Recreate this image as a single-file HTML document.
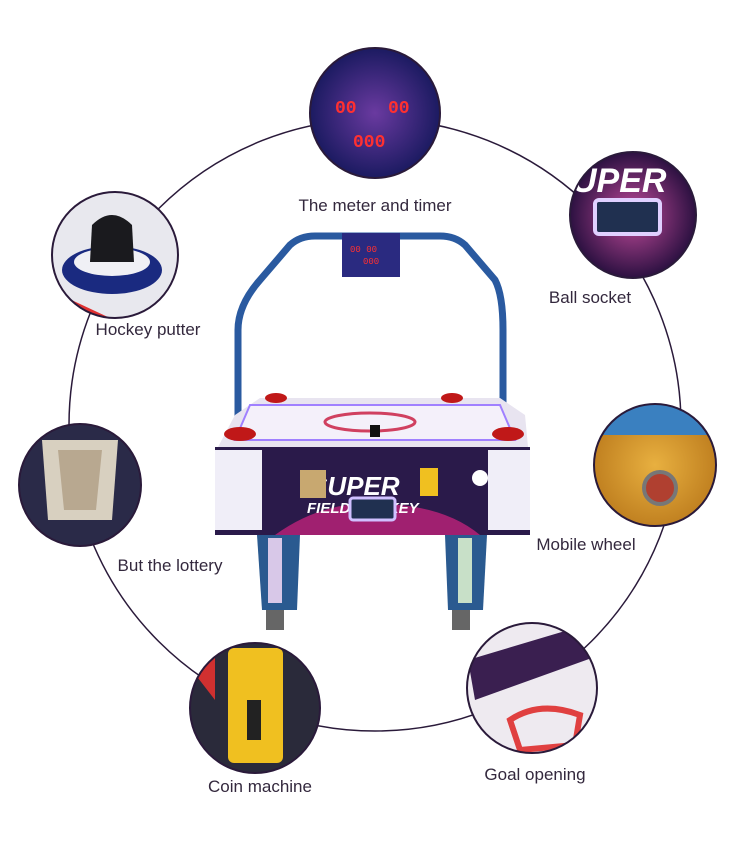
<!DOCTYPE html>
<html><head><style>
body{margin:0;background:#fff;}
.l{position:absolute;font-family:"Liberation Sans",sans-serif;font-size:17px;color:#33283d;white-space:nowrap;transform:translateX(-50%);}
</style></head><body>
<div style="position:relative;width:750px;height:862px;overflow:hidden;">
<svg width="750" height="862" style="position:absolute;left:0;top:0">
<defs>
<radialGradient id="g1"><stop offset="0" stop-color="#6a3aa0"/><stop offset="1" stop-color="#1a1a60"/></radialGradient>
<radialGradient id="g2"><stop offset="0" stop-color="#c04a9a"/><stop offset="1" stop-color="#2a1040"/></radialGradient>
<radialGradient id="g3"><stop offset="0" stop-color="#e8b040"/><stop offset="1" stop-color="#c08020"/></radialGradient>
<clipPath id="c1"><circle cx="375" cy="113" r="65"/></clipPath>
<clipPath id="c2"><circle cx="633" cy="215" r="63"/></clipPath>
<clipPath id="c3"><circle cx="115" cy="255" r="63"/></clipPath>
<clipPath id="c4"><circle cx="655" cy="465" r="61"/></clipPath>
<clipPath id="c5"><circle cx="80" cy="485" r="61"/></clipPath>
<clipPath id="c6"><circle cx="255" cy="708" r="65"/></clipPath>
<clipPath id="c7"><circle cx="532" cy="688" r="65"/></clipPath>
</defs>
<circle cx="375" cy="425" r="306" fill="none" stroke="#2a1a3a" stroke-width="1.5"/>
<!-- meter -->
<g clip-path="url(#c1)">
<circle cx="375" cy="113" r="66" fill="url(#g1)"/>
<text x="335" y="113" font-family="Liberation Mono" font-size="18" fill="#ff3030" font-weight="bold">00</text>
<text x="388" y="113" font-family="Liberation Mono" font-size="18" fill="#ff3030" font-weight="bold">00</text>
<text x="353" y="147" font-family="Liberation Mono" font-size="18" fill="#ff3030" font-weight="bold">000</text>
</g>
<circle cx="375" cy="113" r="65" fill="none" stroke="#2a1a3a" stroke-width="2"/>
<!-- ball socket -->
<g clip-path="url(#c2)">
<circle cx="633" cy="215" r="64" fill="url(#g2)"/>
<text x="572" y="192" font-family="Liberation Sans" font-size="34" font-style="italic" font-weight="bold" fill="#fff">UPER</text>
<rect x="595" y="200" width="65" height="34" rx="4" fill="#203050" stroke="#e0d0ff" stroke-width="4"/>
</g>
<circle cx="633" cy="215" r="63" fill="none" stroke="#2a1a3a" stroke-width="2"/>
<!-- putter -->
<g clip-path="url(#c3)">
<circle cx="115" cy="255" r="64" fill="#e8e8ee"/>
<ellipse cx="112" cy="270" rx="50" ry="24" fill="#1a2a80"/>
<ellipse cx="112" cy="262" rx="38" ry="14" fill="#f0f0f5"/>
<path d="M90 262 L92 225 Q112 205 132 225 L134 262 Z" fill="#1a1a1e"/>
<path d="M50 290 L110 318 L50 318Z" fill="#e03030"/>
</g>
<circle cx="115" cy="255" r="63" fill="none" stroke="#2a1a3a" stroke-width="2"/>
<!-- wheel -->
<g clip-path="url(#c4)">
<circle cx="655" cy="465" r="62" fill="url(#g3)"/>
<rect x="596" y="405" width="118" height="30" fill="#3a80c0"/>
<circle cx="660" cy="488" r="16" fill="#b04030" stroke="#777" stroke-width="4"/>
</g>
<circle cx="655" cy="465" r="61" fill="none" stroke="#2a1a3a" stroke-width="2"/>
<!-- lottery -->
<g clip-path="url(#c5)">
<circle cx="80" cy="485" r="62" fill="#2a2a48"/>
<path d="M42 440 L118 440 L112 520 L48 520 Z" fill="#d8d0c0"/>
<path d="M58 450 L102 450 L96 510 L64 510 Z" fill="#b8a890"/>
</g>
<circle cx="80" cy="485" r="61" fill="none" stroke="#2a1a3a" stroke-width="2"/>
<!-- coin -->
<g clip-path="url(#c6)">
<circle cx="255" cy="708" r="66" fill="#2a2a3a"/>
<rect x="228" y="648" width="55" height="115" rx="6" fill="#f0c020"/>
<rect x="247" y="700" width="14" height="40" fill="#222"/>
<path d="M188 665 L215 650 L215 700 Z" fill="#d03030"/>
</g>
<circle cx="255" cy="708" r="65" fill="none" stroke="#2a1a3a" stroke-width="2"/>
<!-- goal -->
<g clip-path="url(#c7)">
<circle cx="532" cy="688" r="66" fill="#eeeaf0"/>
<path d="M468 660 L585 625 L600 655 L475 700 Z" fill="#3a1f50"/>
<path d="M510 720 Q540 700 580 715 L575 745 L520 750 Z" fill="none" stroke="#e04040" stroke-width="6"/>
</g>
<circle cx="532" cy="688" r="65" fill="none" stroke="#2a1a3a" stroke-width="2"/>
<!-- machine -->
<path d="M238 420 L238 330 Q238 305 260 280 L290 245 Q300 236 315 236 L440 236 Q455 236 465 245 L495 280 Q503 295 503 330 L503 420" fill="none" stroke="#2a5aa0" stroke-width="7"/>
<rect x="342" y="233" width="58" height="44" fill="#2a2a80"/>
<text x="350" y="252" font-family="Liberation Mono" font-size="9" fill="#ff3030">00 00</text>
<text x="363" y="264" font-family="Liberation Mono" font-size="9" fill="#ff3030">000</text>
<path d="M235 415 L260 398 L500 398 L525 415 L528 447 L218 447 Z" fill="#e8e4f0"/>
<path d="M250 405 L500 405 L515 440 L235 440 Z" fill="#f4f0fa" stroke="#a080ff" stroke-width="2"/>
<ellipse cx="370" cy="422" rx="45" ry="9" fill="none" stroke="#d04060" stroke-width="3"/>
<ellipse cx="240" cy="434" rx="16" ry="7" fill="#c01818"/>
<ellipse cx="508" cy="434" rx="16" ry="7" fill="#c01818"/>
<ellipse cx="276" cy="398" rx="11" ry="5" fill="#c01818"/>
<ellipse cx="452" cy="398" rx="11" ry="5" fill="#c01818"/>
<rect x="370" y="425" width="10" height="12" fill="#111"/>
<rect x="215" y="447" width="315" height="88" fill="#2a1a4a"/>
<rect x="215" y="450" width="47" height="80" fill="#f0eef8"/>
<rect x="488" y="450" width="42" height="80" fill="#f0eef8"/>
<path d="M275 535 Q330 495 400 505 Q450 510 480 535 Z" fill="#a02070"/>
<text x="310" y="495" font-family="Liberation Sans" font-size="26" font-style="italic" font-weight="bold" fill="#fff">SUPER</text>
<text x="307" y="513" font-family="Liberation Sans" font-size="15" font-style="italic" font-weight="bold" fill="#fff">FIELD HOCKEY</text>
<rect x="300" y="470" width="26" height="28" fill="#c8a870"/>
<rect x="420" y="468" width="18" height="28" fill="#f0c020"/>
<circle cx="480" cy="478" r="8" fill="#fff"/>
<rect x="350" y="498" width="45" height="22" rx="3" fill="#203050" stroke="#d0c0ff" stroke-width="3"/>
<path d="M257 535 L300 535 L297 610 L262 610 Z" fill="#2a5a90"/>
<path d="M445 535 L487 535 L483 610 L448 610 Z" fill="#2a5a90"/>
<rect x="268" y="538" width="14" height="65" fill="#d8c8e8"/>
<rect x="458" y="538" width="14" height="65" fill="#c8e0c8"/>
<rect x="266" y="610" width="18" height="20" fill="#666"/>
<rect x="452" y="610" width="18" height="20" fill="#666"/>
</svg>
<div class="l" style="left:375px;top:196px">The meter and timer</div>
<div class="l" style="left:590px;top:288px">Ball socket</div>
<div class="l" style="left:148px;top:320px">Hockey putter</div>
<div class="l" style="left:586px;top:535px">Mobile wheel</div>
<div class="l" style="left:170px;top:556px">But the lottery</div>
<div class="l" style="left:260px;top:777px">Coin machine</div>
<div class="l" style="left:535px;top:765px">Goal opening</div>
</div>
</body></html>
